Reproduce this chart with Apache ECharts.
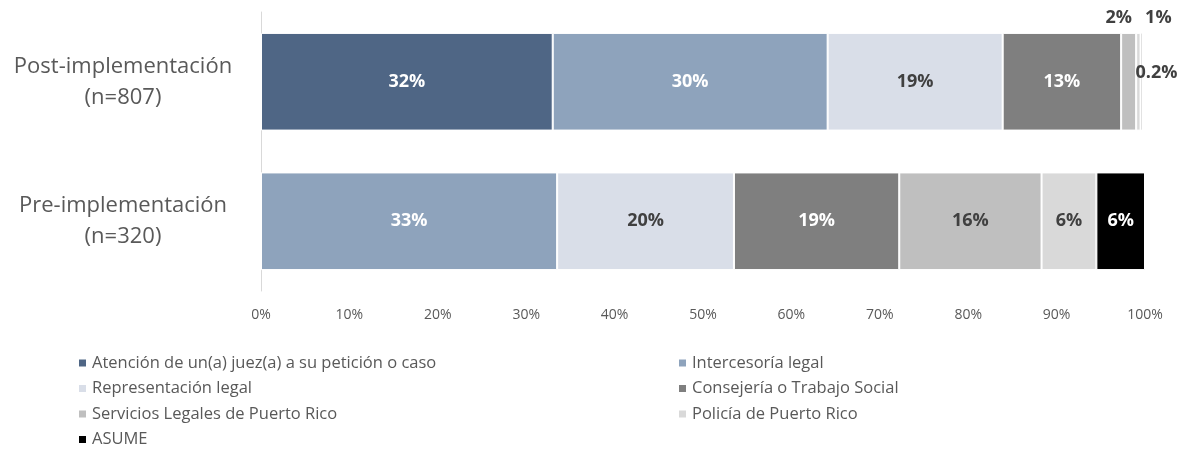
<!DOCTYPE html>
<html>
<head>
<meta charset="utf-8">
<script src="https://cdn.jsdelivr.net/npm/echarts@6/dist/echarts.min.js"></script>
<style>
  html, body { margin: 0; padding: 0; background: #fff; }
  #chart { width: 1183px; height: 452px; }
</style>
</head>
<body>
<div id="chart"></div>
<script>
// categories (top to bottom)
var categories = ['Post-implementación\n(n=807)', 'Pre-implementación\n(n=320)']
var seriesNames = [
  'Atención de un(a) juez(a) a su petición o caso',
  'Intercesoría legal',
  'Representación legal',
  'Consejería o Trabajo Social',
  'Servicios Legales de Puerto Rico',
  'Policía de Puerto Rico',
  'ASUME'
]
// bar widths, [post, pre]
var atencion = [33.0, 0]
var intercesoria = [31.1, 33.5]
var representacion = [19.8, 20.0]
var consejeria = [13.4, 18.7]
var servicios = [1.7, 16.1]
var policia = [0.5, 6.2]
var asume = [0.2, 5.5]
// printed labels, [post, pre]
var atencionLbl = ['32%', '']
var intercesoriaLbl = ['30%', '33%']
var representacionLbl = ['19%', '20%']
var consejeriaLbl = ['13%', '19%']
var serviciosLbl = ['2%', '16%']
var policiaLbl = ['1%', '6%']
var asumeLbl = ['0.2%', '6%']
var xTicks = [0, 10, 20, 30, 40, 50, 60, 70, 80, 90, 100]

var colors = ['#4f6685', '#8ea3bc', '#d9dee8', '#7f7f7f', '#bfbfbf', '#d9d9d9', '#000000']
// label colour per series: light text on dark fills
var labelColors = ['#ffffff', '#ffffff', '#404040', '#ffffff', '#404040', '#404040', '#ffffff']

var values = [atencion, intercesoria, representacion, consejeria, servicios, policia, asume]
var labels = [atencionLbl, intercesoriaLbl, representacionLbl, consejeriaLbl, serviciosLbl, policiaLbl, asumeLbl]

var FONT = '"Open Sans", "Noto Sans", sans-serif'

function makeData(i) {
  return values[i].map(function (v, j) {
    var item = { value: v, label: { color: labelColors[i] } }
    // tiny post segments get their labels outside the bar
    if (j === 0 && i === 4) item.label = { position: 'top', distance: 6, offset: [-10, 0], color: '#404040' }
    if (j === 0 && i === 5) item.label = { position: 'top', distance: 6, offset: [20, 0], color: '#404040' }
    if (j === 0 && i === 6) item.label = { position: 'inside', offset: [15, -9], color: '#404040' }
    return item
  })
}

var series = seriesNames.map(function (name, i) {
  return {
    name: name,
    type: 'bar',
    stack: 'total',
    barWidth: '70%',
    itemStyle: { color: colors[i], borderColor: '#ffffff', borderWidth: 1 },
    label: {
      show: true,
      position: 'inside',
      fontFamily: FONT,
      fontSize: 18,
      fontWeight: 'bold',
      formatter: function (p) { return labels[i][p.dataIndex] }
    },
    emphasis: { disabled: true },
    data: makeData(i)
  }
})

var legendText = { fontSize: 16.5, color: '#595959', lineHeight: 20, fontFamily: FONT }

var chart = echarts.init(document.getElementById('chart'))
chart.setOption({
  animation: false,
  textStyle: { fontFamily: FONT },
  grid: { left: 261, right: 38, top: 12, bottom: 161, containLabel: false },
  legend: [{
    orient: 'vertical',
    left: 72,
    top: 348,
    height: 120,
    icon: 'rect',
    itemWidth: 9,
    itemHeight: 9,
    itemGap: 5.5,
    textStyle: legendText,
    data: [seriesNames[0], seriesNames[2], seriesNames[4], seriesNames[6]]
  }, {
    orient: 'vertical',
    left: 672,
    top: 348,
    height: 120,
    icon: 'rect',
    itemWidth: 9,
    itemHeight: 9,
    itemGap: 5.5,
    textStyle: legendText,
    data: [seriesNames[1], seriesNames[3], seriesNames[5]]
  }],
  xAxis: {
    type: 'value',
    min: 0,
    max: 100,
    interval: 10,
    axisLine: { show: false },
    axisTick: { show: false },
    splitLine: { show: false },
    axisLabel: {
      color: '#595959',
      fontSize: 14,
      margin: 17,
      fontFamily: FONT,
      formatter: function (v) { return xTicks.indexOf(v) >= 0 ? v + '%' : '' }
    }
  },
  yAxis: {
    type: 'category',
    inverse: true,
    data: categories,
    axisLine: { show: true, lineStyle: { color: '#d9d9d9', width: 1 } },
    axisTick: { show: false },
    axisLabel: {
      color: '#595959',
      fontSize: 22,
      lineHeight: 31,
      align: 'center',
      margin: 138,
      padding: [14, 0, 0, 0],
      fontFamily: FONT
    }
  },
  series: series
})
</script>
</body>
</html>
